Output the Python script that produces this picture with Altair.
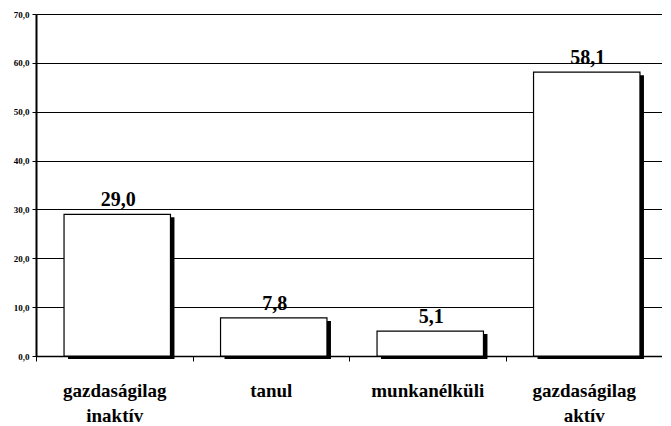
import altair as alt
import pandas as pd

categories = ["gazdaságilag|inaktív", "tanul", "munkanélküli", "gazdaságilag|aktív"]
values = [29.0, 7.8, 5.1, 58.1]
value_labels = ["29,0", "7,8", "5,1", "58,1"]
y_ticks = [0, 10, 20, 30, 40, 50, 60, 70]

df = pd.DataFrame({"cat": categories, "val": values, "lbl": value_labels})

FONT = "Liberation Serif"

x = alt.X("cat:N", sort=categories, title=None,
          scale=alt.Scale(paddingInner=0, paddingOuter=0),
          axis=alt.Axis(labelAngle=0, labelExpr="split(datum.label, '|')",
                        labelFont=FONT, labelFontSize=19, labelFontWeight="bold",
                        labelColor="black", labelPadding=20, labelLineHeight=25,
                        tickBand="extent", tickColor="black", tickSize=5, tickWidth=1,
                        domainColor="black", domainWidth=1.5, grid=False))
y = alt.Y("val:Q", title=None,
          scale=alt.Scale(domain=[0, 70], nice=False),
          axis=alt.Axis(values=y_ticks,
                        labelExpr="replace(format(datum.value, '.1f'), '.', ',')",
                        labelFont=FONT, labelFontSize=9, labelFontWeight="bold",
                        labelColor="black", labelPadding=3,
                        tickColor="black", tickSize=4, tickWidth=1,
                        domainColor="black", domainWidth=2,
                        grid=True, gridColor="black", gridWidth=1, gridOpacity=1))

base = alt.Chart(df)

shadow = base.mark_bar(color="black", xOffset=7, yOffset=3,
                       width=alt.RelativeBandSize(0.68)).encode(x=x, y=y)
bars = base.mark_bar(fill="white", stroke="black", strokeWidth=1.2, xOffset=3,
                     width=alt.RelativeBandSize(0.68)).encode(x=x, y=y)
text = base.mark_text(font=FONT, fontSize=20, fontWeight="bold", color="black",
                      dy=-14, dx=4).encode(x=x, y=y, text="lbl:N")

chart = alt.layer(shadow, bars, text).properties(
    width=626, height=342,
    autosize=alt.AutoSizeParams(type="none"),
    padding={"left": 28, "top": 6, "right": 0, "bottom": 68},
).configure_view(stroke=None).configure(background="white", font=FONT)

chart.save("out.html", embed_options={"renderer": "svg", "actions": False})
